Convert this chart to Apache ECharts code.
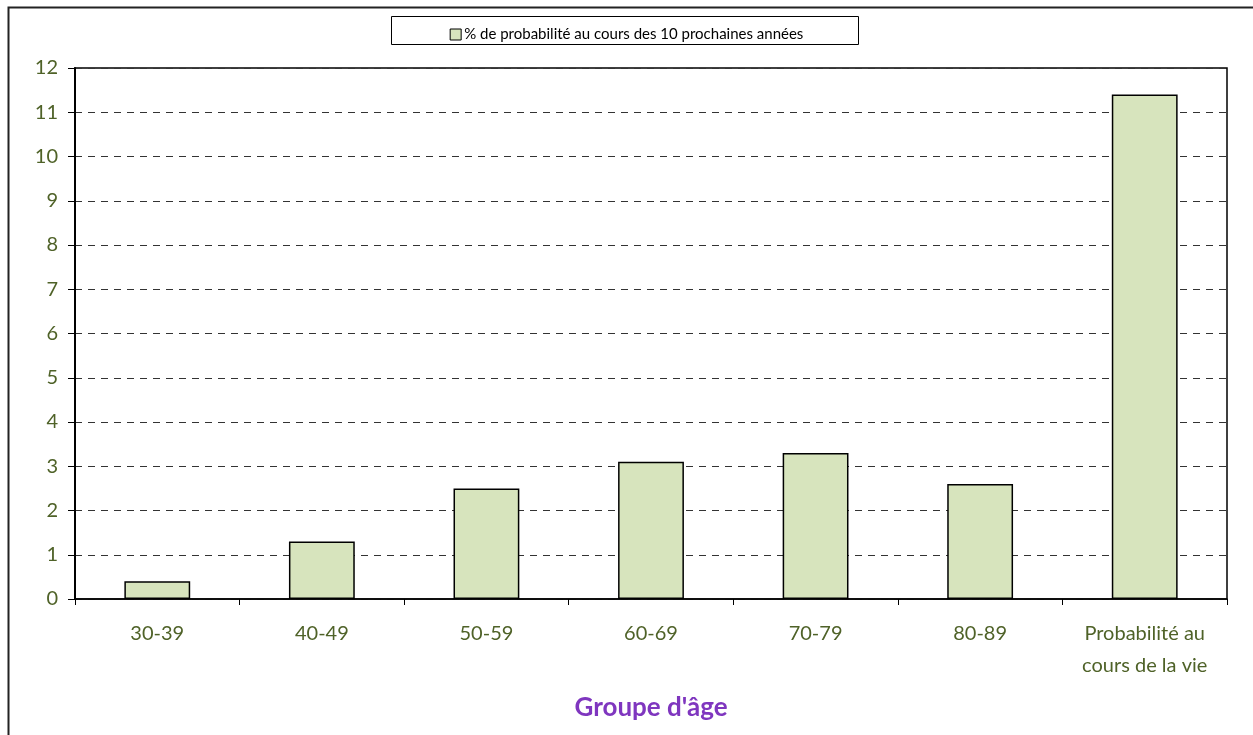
<!DOCTYPE html>
<html style="height: 100%">
<head>
  <meta charset="utf-8">
  <script src="https://cdn.jsdelivr.net/npm/echarts@6/dist/echarts.min.js"></script>
</head>
<body style="height: 100%; margin: 0; background: #fff">
  <div id="main" style="width: 1253px; height: 735px"></div>
  <script type="text/javascript">
    // catégories et valeurs
    var groupes = ['30-39', '40-49', '50-59', '60-69', '70-79', '80-89', 'Probabilité au\ncours de la vie'];
    var probabilite = [0.4, 1.3, 2.5, 3.1, 3.3, 2.6, 11.4];
    var nomSerie = '% de probabilité au cours des 10 prochaines années';

    var vert = '#4F6228';
    var police = 'Lato, "Open Sans", sans-serif';

    var myChart = echarts.init(document.getElementById('main'));
    var option = {
      animation: false,
      textStyle: { fontFamily: police },
      graphic: [
        {
          type: 'rect',
          shape: { x: 8.5, y: 7.5, width: 1300, height: 800 },
          style: { fill: 'none', stroke: '#222', lineWidth: 2 },
          silent: true
        },
        {
          type: 'rect',
          shape: { x: 391.5, y: 16.5, width: 467, height: 28 },
          style: { fill: '#fff', stroke: '#000', lineWidth: 1 },
          z: -1,
          silent: true
        },
        {
          type: 'text',
          x: 651,
          y: 708,
          style: {
            text: "Groupe d'âge", fill: '#7F36BF', font: 'bold 26px ' + police,
            align: 'center', verticalAlign: 'middle'
          }
        }
      ],
      legend: {
        top: 22,
        left: 'center',
        icon: 'rect',
        itemWidth: 11,
        itemHeight: 11,
        itemGap: 4,
        itemStyle: { borderColor: '#000', borderWidth: 1 },
        textStyle: { color: '#000', fontSize: 15, fontFamily: police, padding: [0, 0, 0, -2] },
        data: [nomSerie]
      },
      grid: {
        left: 75,
        top: 68,
        width: 1152,
        height: 531,
        show: true,
        borderColor: '#000',
        borderWidth: 1.5
      },
      xAxis: {
        type: 'category',
        data: groupes,
        axisLine: { lineStyle: { color: '#000', width: 1.5 } },
        axisTick: { show: true, length: 6, lineStyle: { color: '#000' } },
        axisLabel: { color: vert, fontSize: 20, margin: 19, lineHeight: 32, interval: 0 }
      },
      yAxis: {
        type: 'value',
        min: 0,
        max: 12,
        interval: 1,
        axisLine: { show: true, lineStyle: { color: '#000', width: 2 } },
        axisTick: { show: true, length: 7, lineStyle: { color: '#000' } },
        axisLabel: { color: vert, fontSize: 20, margin: 17 },
        splitLine: { lineStyle: { color: '#333', type: [7, 6], width: 1 } }
      },
      series: [{
        name: nomSerie,
        type: 'bar',
        data: probabilite,
        barWidth: '40%',
        itemStyle: { color: '#D7E4BD', borderColor: '#000', borderWidth: 1.5 }
      }]
    };
    myChart.setOption(option);
  </script>
</body>
</html>
